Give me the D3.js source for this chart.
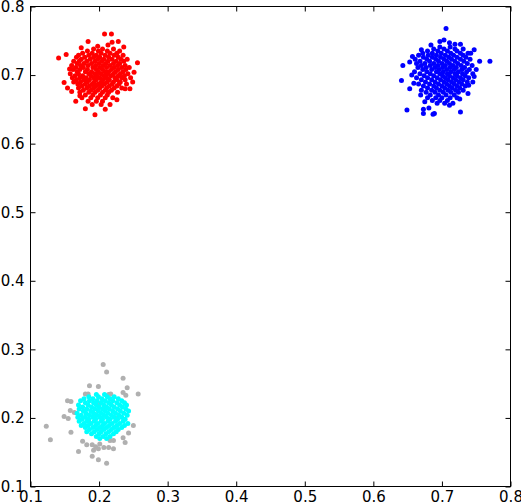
<!DOCTYPE html>
<html>
<head>
<meta charset="utf-8">
<script src="https://cdn.jsdelivr.net/npm/d3@7"></script>
<style>
html,body{margin:0;padding:0;background:#fff;}
svg{display:block;}
text{font-family:"DejaVu Sans",sans-serif;font-size:15px;fill:#000;}
</style>
</head>
<body>
<svg id="chart" width="521" height="503"></svg>
<script>
const xTicks = [0.1,0.2,0.3,0.4,0.5,0.6,0.7,0.8];
const yTicks = [0.1,0.2,0.3,0.4,0.5,0.6,0.7,0.8];

const redPoints = [
[0.208,0.760],[0.218,0.760],[0.184,0.749],[0.219,0.748],[0.228,0.749],[0.141,0.725],[0.152,0.730],
[0.256,0.718],[0.149,0.689],[0.154,0.681],[0.166,0.662],[0.180,0.651],[0.194,0.642],[0.209,0.650],
[0.245,0.680],[0.238,0.680],[0.251,0.704],
[0.213,0.744],[0.198,0.742],[0.174,0.740],[0.236,0.741],[0.157,0.709],[0.249,0.690],[0.160,0.676],
[0.226,0.664],[0.216,0.657],[0.172,0.670],
[0.192,0.738],[0.205,0.738],[0.221,0.738],
[0.183,0.735],[0.199,0.735],[0.212,0.735],[0.230,0.735],
[0.176,0.732],[0.190,0.732],[0.203,0.732],[0.216,0.732],[0.226,0.732],
[0.170,0.729],[0.185,0.729],[0.196,0.729],[0.209,0.729],[0.222,0.729],[0.235,0.729],
[0.167,0.726],[0.179,0.726],[0.192,0.726],[0.201,0.726],[0.214,0.726],[0.228,0.726],
[0.174,0.723],[0.187,0.723],[0.198,0.723],[0.207,0.723],[0.219,0.723],[0.232,0.723],[0.241,0.723],
[0.163,0.720],[0.171,0.720],[0.182,0.720],[0.194,0.720],[0.204,0.720],[0.213,0.720],[0.225,0.720],[0.236,0.720],
[0.168,0.717],[0.178,0.717],[0.189,0.717],[0.200,0.717],[0.210,0.717],[0.221,0.717],[0.230,0.717],
[0.160,0.714],[0.173,0.714],[0.184,0.714],[0.195,0.714],[0.206,0.714],[0.216,0.714],[0.227,0.714],[0.238,0.714],
[0.166,0.711],[0.177,0.711],[0.191,0.711],[0.201,0.711],[0.211,0.711],[0.222,0.711],[0.233,0.711],[0.244,0.711],
[0.162,0.708],[0.172,0.708],[0.183,0.708],[0.196,0.708],[0.205,0.708],[0.218,0.708],[0.228,0.708],[0.239,0.708],
[0.168,0.705],[0.180,0.705],[0.189,0.705],[0.199,0.705],[0.209,0.705],[0.214,0.705],[0.224,0.705],[0.235,0.705],
[0.158,0.702],[0.170,0.702],[0.185,0.702],[0.194,0.702],[0.203,0.702],[0.212,0.702],[0.221,0.702],[0.231,0.702],[0.242,0.702],
[0.165,0.699],[0.176,0.699],[0.188,0.699],[0.197,0.699],[0.207,0.699],[0.217,0.699],[0.228,0.699],[0.237,0.699],
[0.161,0.696],[0.172,0.696],[0.181,0.696],[0.192,0.696],[0.201,0.696],[0.211,0.696],[0.223,0.696],[0.233,0.696],[0.246,0.696],
[0.167,0.693],[0.178,0.693],[0.186,0.693],[0.196,0.693],[0.206,0.693],[0.215,0.693],[0.226,0.693],[0.238,0.693],
[0.163,0.690],[0.173,0.690],[0.183,0.690],[0.193,0.690],[0.203,0.690],[0.212,0.690],[0.221,0.690],[0.231,0.690],
[0.169,0.687],[0.180,0.687],[0.190,0.687],[0.199,0.687],[0.208,0.687],[0.219,0.687],[0.229,0.687],[0.240,0.687],
[0.175,0.684],[0.186,0.684],[0.195,0.684],[0.204,0.684],[0.215,0.684],[0.226,0.684],
[0.170,0.681],[0.182,0.681],[0.192,0.681],[0.201,0.681],[0.211,0.681],[0.222,0.681],[0.233,0.681],
[0.177,0.678],[0.188,0.678],[0.198,0.678],[0.209,0.678],[0.218,0.678],
[0.172,0.675],[0.185,0.675],[0.194,0.675],[0.205,0.675],[0.214,0.675],[0.227,0.675],
[0.180,0.671],[0.191,0.671],[0.202,0.671],[0.212,0.671],
[0.175,0.667],[0.188,0.667],[0.198,0.667],[0.209,0.667],[0.220,0.667],
[0.184,0.662],[0.196,0.662],[0.205,0.662],
[0.190,0.657],[0.203,0.657]
];

const bluePoints = [
[0.706,0.768],[0.697,0.749],[0.703,0.751],[0.711,0.747],[0.727,0.745],[0.670,0.737],[0.747,0.737],
[0.742,0.732],[0.755,0.720],[0.770,0.720],[0.643,0.714],[0.653,0.719],[0.641,0.692],[0.747,0.698],
[0.653,0.680],[0.739,0.685],[0.738,0.673],[0.669,0.671],[0.675,0.661],[0.711,0.656],[0.726,0.665],
[0.649,0.649],[0.673,0.650],[0.673,0.644],[0.681,0.652],[0.687,0.643],[0.689,0.644],[0.727,0.646],
[0.684,0.744],[0.719,0.745],[0.657,0.727],[0.750,0.708],[0.656,0.700],[0.659,0.688],[0.745,0.690],
[0.697,0.741],[0.712,0.741],
[0.688,0.738],[0.703,0.738],[0.719,0.738],[0.731,0.738],
[0.679,0.735],[0.694,0.735],[0.708,0.735],[0.722,0.735],
[0.672,0.732],[0.686,0.732],[0.699,0.732],[0.713,0.732],[0.727,0.732],[0.738,0.732],
[0.666,0.729],[0.680,0.729],[0.692,0.729],[0.705,0.729],[0.717,0.729],[0.731,0.729],
[0.673,0.726],[0.686,0.726],[0.698,0.726],[0.710,0.726],[0.722,0.726],[0.735,0.726],
[0.661,0.723],[0.678,0.723],[0.691,0.723],[0.703,0.723],[0.714,0.723],[0.727,0.723],[0.741,0.723],
[0.668,0.720],[0.682,0.720],[0.695,0.720],[0.707,0.720],[0.719,0.720],[0.732,0.720],
[0.663,0.717],[0.675,0.717],[0.688,0.717],[0.700,0.717],[0.711,0.717],[0.723,0.717],[0.737,0.717],
[0.670,0.714],[0.683,0.714],[0.694,0.714],[0.705,0.714],[0.716,0.714],[0.728,0.714],[0.744,0.714],
[0.665,0.711],[0.677,0.711],[0.690,0.711],[0.701,0.711],[0.712,0.711],[0.721,0.711],[0.733,0.711],
[0.672,0.708],[0.685,0.708],[0.696,0.708],[0.707,0.708],[0.718,0.708],[0.729,0.708],[0.740,0.708],
[0.660,0.705],[0.678,0.705],[0.692,0.705],[0.702,0.705],[0.713,0.705],[0.724,0.705],[0.736,0.705],
[0.668,0.702],[0.683,0.702],[0.697,0.702],[0.708,0.702],[0.719,0.702],[0.730,0.702],[0.745,0.702],
[0.674,0.699],[0.688,0.699],[0.701,0.699],[0.711,0.699],[0.722,0.699],[0.734,0.699],
[0.663,0.696],[0.679,0.696],[0.693,0.696],[0.705,0.696],[0.716,0.696],[0.727,0.696],[0.739,0.696],
[0.670,0.693],[0.685,0.693],[0.698,0.693],[0.709,0.693],[0.720,0.693],[0.731,0.693],
[0.676,0.690],[0.690,0.690],[0.703,0.690],[0.714,0.690],[0.725,0.690],[0.737,0.690],
[0.666,0.687],[0.682,0.687],[0.695,0.687],[0.707,0.687],[0.718,0.687],[0.729,0.687],
[0.673,0.684],[0.688,0.684],[0.700,0.684],[0.711,0.684],[0.722,0.684],[0.734,0.684],
[0.679,0.681],[0.692,0.681],[0.704,0.681],[0.715,0.681],[0.726,0.681],
[0.670,0.678],[0.685,0.678],[0.697,0.678],[0.709,0.678],[0.720,0.678],[0.731,0.678],
[0.677,0.675],[0.690,0.675],[0.702,0.675],[0.713,0.675],[0.724,0.675],
[0.683,0.671],[0.695,0.671],[0.706,0.671],[0.718,0.671],
[0.679,0.667],[0.691,0.667],[0.700,0.667],[0.712,0.667],[0.722,0.667],
[0.686,0.663],[0.697,0.663],[0.708,0.663],
[0.693,0.659],[0.704,0.659],[0.716,0.659]
];

const grayPoints = [
[0.206,0.278],[0.211,0.267],[0.235,0.258],[0.186,0.247],[0.199,0.246],[0.241,0.244],[0.235,0.237],
[0.239,0.233],[0.257,0.235],[0.180,0.235],[0.184,0.235],[0.214,0.234],[0.217,0.235],[0.154,0.225],
[0.159,0.224],[0.158,0.211],[0.164,0.208],[0.149,0.202],[0.155,0.199],[0.123,0.188],[0.250,0.189],
[0.159,0.179],[0.243,0.178],[0.129,0.168],[0.235,0.171],[0.238,0.164],[0.176,0.166],[0.182,0.161],
[0.190,0.161],[0.195,0.158],[0.201,0.162],[0.207,0.157],[0.214,0.157],[0.221,0.155],[0.216,0.167],
[0.221,0.167],[0.192,0.153],[0.199,0.155],[0.170,0.151],[0.190,0.144],[0.199,0.139],[0.211,0.134],
[0.195,0.205],[0.210,0.215],[0.185,0.195],[0.225,0.200],[0.205,0.185],[0.200,0.220]
];

const cyanPoints = [
[0.196,0.234],[0.208,0.234],
[0.185,0.231],[0.199,0.231],[0.212,0.231],[0.222,0.231],
[0.178,0.228],[0.191,0.228],[0.204,0.228],[0.216,0.228],[0.228,0.228],
[0.173,0.225],[0.186,0.225],[0.197,0.225],[0.209,0.225],[0.220,0.225],[0.233,0.225],
[0.180,0.222],[0.192,0.222],[0.203,0.222],[0.214,0.222],[0.226,0.222],[0.237,0.222],
[0.170,0.219],[0.184,0.219],[0.196,0.219],[0.207,0.219],[0.218,0.219],[0.230,0.219],[0.240,0.219],
[0.176,0.216],[0.189,0.216],[0.200,0.216],[0.211,0.216],[0.222,0.216],[0.234,0.216],
[0.171,0.213],[0.182,0.213],[0.194,0.213],[0.205,0.213],[0.215,0.213],[0.227,0.213],[0.239,0.213],
[0.177,0.210],[0.188,0.210],[0.199,0.210],[0.209,0.210],[0.220,0.210],[0.231,0.210],[0.243,0.210],
[0.168,0.207],[0.181,0.207],[0.192,0.207],[0.203,0.207],[0.213,0.207],[0.224,0.207],[0.236,0.207],
[0.174,0.204],[0.186,0.204],[0.197,0.204],[0.207,0.204],[0.218,0.204],[0.229,0.204],[0.241,0.204],
[0.169,0.201],[0.180,0.201],[0.191,0.201],[0.201,0.201],[0.211,0.201],[0.222,0.201],[0.233,0.201],
[0.175,0.198],[0.185,0.198],[0.195,0.198],[0.205,0.198],[0.216,0.198],[0.227,0.198],[0.238,0.198],
[0.171,0.195],[0.182,0.195],[0.193,0.195],[0.203,0.195],[0.213,0.195],[0.224,0.195],[0.235,0.195],
[0.178,0.192],[0.188,0.192],[0.198,0.192],[0.208,0.192],[0.219,0.192],[0.230,0.192],[0.242,0.192],
[0.174,0.189],[0.184,0.189],[0.195,0.189],[0.205,0.189],[0.215,0.189],[0.226,0.189],[0.237,0.189],
[0.180,0.186],[0.191,0.186],[0.201,0.186],[0.211,0.186],[0.222,0.186],[0.233,0.186],
[0.186,0.183],[0.197,0.183],[0.207,0.183],[0.218,0.183],[0.228,0.183],
[0.182,0.180],[0.193,0.180],[0.203,0.180],[0.214,0.180],[0.225,0.180],
[0.189,0.177],[0.200,0.177],[0.210,0.177],[0.221,0.177],
[0.196,0.173],[0.206,0.173],[0.216,0.173],
[0.201,0.170],[0.211,0.170]
];

const series = [
  {name:"gray", color:"#b0b0b0", points:grayPoints},
  {name:"cyan", color:"#00ffff", points:cyanPoints},
  {name:"red", color:"#ff0000", points:redPoints},
  {name:"blue", color:"#0000ff", points:bluePoints}
];

const L = 30.5, R = 510.5, T = 6.5, B = 486.5;
const svg = d3.select("#chart");
const x = d3.scaleLinear().domain([0.1,0.8]).range([L,R]);
const y = d3.scaleLinear().domain([0.1,0.8]).range([B,T]);

const fmt = d3.format(".1f");

// points
series.forEach(s => {
  svg.append("g").selectAll("circle").data(s.points).join("circle")
    .attr("cx", d => x(d[0])).attr("cy", d => y(d[1]))
    .attr("r", 2.5).attr("fill", s.color);
});

// axes
const tickLen = 5;
svg.append("g").attr("transform",`translate(0,${B})`)
  .call(d3.axisBottom(x).tickValues(xTicks).tickSize(-tickLen).tickPadding(5).tickFormat(fmt))
  .call(g => g.select(".domain").remove());
svg.append("g").attr("transform",`translate(0,${T})`)
  .call(d3.axisTop(x).tickValues(xTicks).tickSize(-tickLen).tickFormat(""))
  .call(g => g.select(".domain").remove());
svg.append("g").attr("transform",`translate(${L},0)`)
  .call(d3.axisLeft(y).tickValues(yTicks).tickSize(-tickLen).tickPadding(6).tickFormat(fmt))
  .call(g => g.select(".domain").remove());
svg.append("g").attr("transform",`translate(${R},0)`)
  .call(d3.axisRight(y).tickValues(yTicks).tickSize(-tickLen).tickFormat(""))
  .call(g => g.select(".domain").remove());

svg.selectAll(".tick text").style("font-size","15px").style("font-family","'DejaVu Sans',sans-serif").attr("fill","#000");
svg.selectAll(".tick line").attr("stroke","#000");

svg.append("rect").attr("x",L).attr("y",T).attr("width",R-L).attr("height",B-T)
  .attr("fill","none").attr("stroke","#000").attr("stroke-width",1);
</script>
</body>
</html>
